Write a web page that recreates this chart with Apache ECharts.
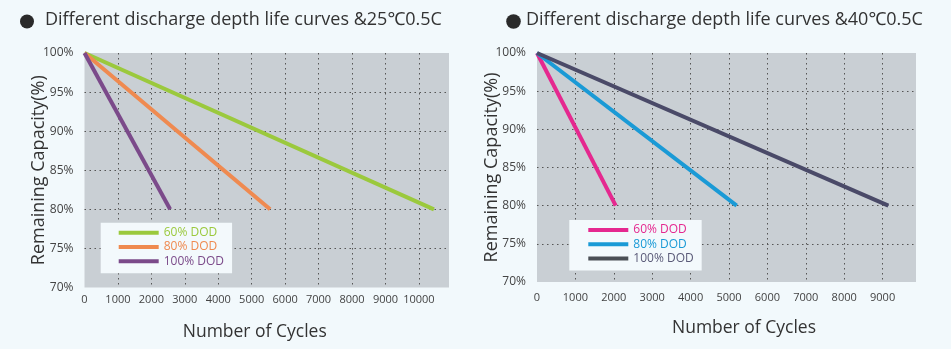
<!DOCTYPE html>
<html>
<head>
<meta charset="utf-8">
<script src="https://cdn.jsdelivr.net/npm/echarts@6/dist/echarts.min.js"></script>
<style>
html,body{margin:0;padding:0;background:#f2f9fc;}
#c{width:951px;height:349px;}
</style>
</head>
<body>
<div id="c"></div>
<script>
// ---- data ----
const titleLeft = 'Different discharge depth life curves &25℃0.5C';
const titleRight = 'Different discharge depth life curves &40℃0.5C';
const seriesNames = ['60% DOD', '80% DOD', '100% DOD'];
// left chart (25℃): start and end points [cycles, capacity%]
const left60 = [[0, 100], [10450, 80]];
const left80 = [[0, 100], [5550, 80]];
const left100 = [[0, 100], [2560, 80]];
// right chart (40℃)
const right60 = [[0, 100], [2050, 80]];
const right80 = [[0, 100], [5200, 80]];
const right100 = [[0, 100], [9150, 80]];
const yTicks = [70, 75, 80, 85, 90, 95, 100];
const xTicksLeft = [0, 1000, 2000, 3000, 4000, 5000, 6000, 7000, 8000, 9000, 10000];
const xTicksRight = [0, 1000, 2000, 3000, 4000, 5000, 6000, 7000, 8000, 9000];

const leftColors = ['#9bc93d', '#ef8a50', '#7b4a8a'];
const rightColors = ['#e5288f', '#1a9ad6', '#4a4a68'];
const rightLegendIcon = ['#e5288f', '#1a9ad6', '#4a4f55'];
const rightLegendText = ['#e5288f', '#1a9ad6', '#5a5a78'];

const FONT = '"Open Sans", "Noto Sans", sans-serif';
const chart = echarts.init(document.getElementById('c'));

function xAxis(gridIndex, max, margin, nameGap, namePad) {
  return {
    type: 'value', gridIndex, min: 0, max, interval: 1000,
    axisLine: {show: false}, axisTick: {show: false},
    axisLabel: {show: true, margin, color: '#444', fontSize: 11, fontFamily: FONT, showMaxLabel: false,
      formatter: v => String(v)},
    splitLine: {show: true, showMinLine: false, showMaxLine: false,
      lineStyle: {color: '#555', type: [1.5, 3.5], width: 1}},
    name: 'Number of Cycles', nameLocation: 'middle', nameGap,
    nameTextStyle: {fontSize: 17.5, color: '#333', fontFamily: FONT, padding: namePad, verticalAlign: 'top'}
  };
}
function yAxis(gridIndex, nameGap) {
  return {
    type: 'value', gridIndex, min: 70, max: 100, interval: 5,
    axisLine: {show: false}, axisTick: {show: false},
    axisLabel: {margin: 11, color: '#444', fontSize: 12, fontFamily: FONT, formatter: v => v + '%'},
    splitLine: {show: true, showMinLine: false, showMaxLine: false,
      lineStyle: {color: '#555', type: [1.5, 3.5], width: 1}},
    name: 'Remaining Capacity(%)', nameLocation: 'middle', nameGap, nameMoveOverlap: false,
    nameTextStyle: {fontSize: 18, color: '#333', fontFamily: FONT}
  };
}
function line(name, data, color, idx) {
  return {
    name, type: 'line', data, xAxisIndex: idx, yAxisIndex: idx,
    symbol: 'none', lineStyle: {width: 4, color}, itemStyle: {color},
    silent: true, animation: false
  };
}

const leftData = [left60, left80, left100];
const rightData = [right60, right80, right100];

const option = {
  backgroundColor: '#f2f9fc',
  animation: false,
  title: [
    {text: titleLeft, left: 45, top: 11, padding: 0, textStyle: {fontSize: 18, fontWeight: 'normal', color: '#333', fontFamily: FONT}},
    {text: titleRight, left: 526, top: 11, padding: 0, textStyle: {fontSize: 18, fontWeight: 'normal', color: '#333', fontFamily: FONT}}
  ],
  graphic: [
    {type: 'circle', shape: {cx: 27, cy: 21.5, r: 7}, style: {fill: '#2a2a2a'}},
    {type: 'circle', shape: {cx: 513.5, cy: 21.5, r: 7.3}, style: {fill: '#2a2a2a'}}
  ],
  grid: [
    {left: 84.5, right: 502, top: 53, bottom: 61.5, show: true, backgroundColor: '#c9cfd4', borderWidth: 0},
    {left: 537, right: 35, top: 53, bottom: 67, show: true, backgroundColor: '#c9cfd4', borderWidth: 0}
  ],
  xAxis: [xAxis(0, 10900, 7, 36, [0, 24, 0, 0]), xAxis(1, 9870, 10, 37, [0, 0, 0, 35])],
  yAxis: [yAxis(0, 36.5), yAxis(1, 36)],
  legend: [
    {
      orient: 'vertical', left: 100.7, top: 222.7, padding: [3, 8, 5, 18],
      backgroundColor: '#f3f9fc', icon: 'rect', itemWidth: 40, itemHeight: 4, itemGap: 0.3,
      textStyle: {fontSize: 12, lineHeight: 14, fontFamily: FONT},
      formatter: n => n.split('|')[1], selectedMode: false,
      data: seriesNames.map((s, i) => ({name: 'L|' + s, textStyle: {color: leftColors[i]}, itemStyle: {color: leftColors[i]}}))
    },
    {
      orient: 'vertical', left: 569.3, top: 220, padding: [3, 8, 5, 19],
      backgroundColor: '#f3f9fc', icon: 'rect', itemWidth: 40, itemHeight: 4, itemGap: 0.2,
      textStyle: {fontSize: 12, lineHeight: 14, fontFamily: FONT},
      formatter: n => n.split('|')[1], selectedMode: false,
      data: seriesNames.map((s, i) => ({name: 'R|' + s, textStyle: {color: rightLegendText[i]}, itemStyle: {color: rightLegendIcon[i]}}))
    }
  ],
  series: [
    ...seriesNames.map((s, i) => line('L|' + s, leftData[i], leftColors[i], 0)),
    ...seriesNames.map((s, i) => line('R|' + s, rightData[i], rightColors[i], 1))
  ]
};
chart.setOption(option);
</script>
</body>
</html>
